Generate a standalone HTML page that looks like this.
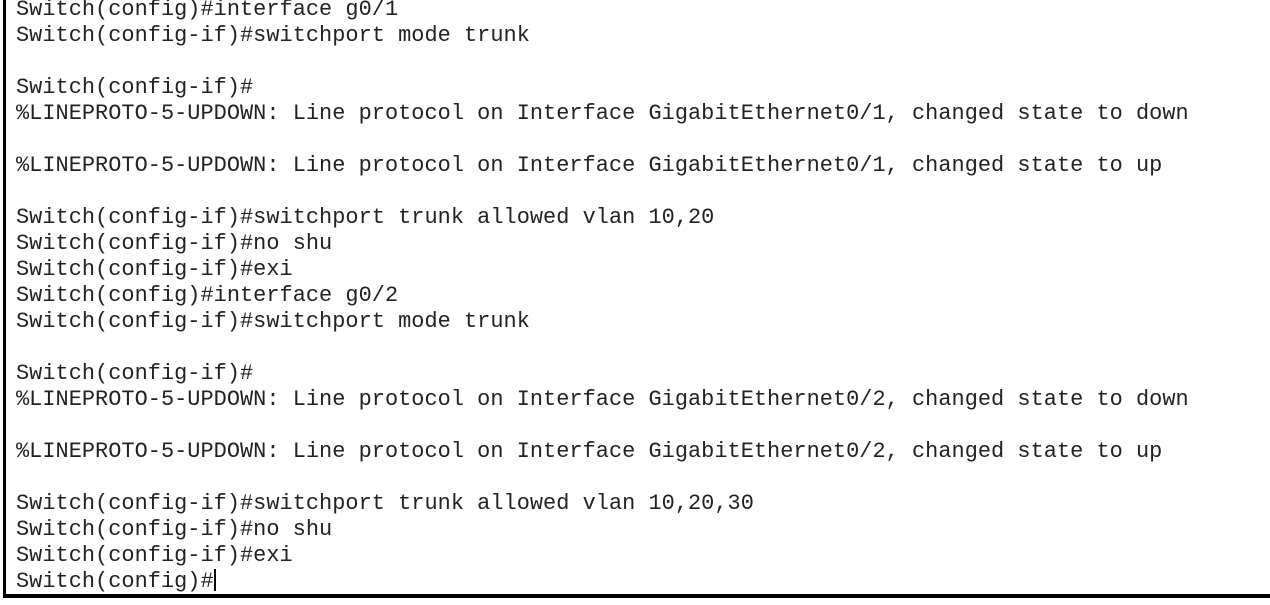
<!DOCTYPE html>
<html><head><style>
html,body{margin:0;padding:0;background:#fff;width:1270px;height:605px;overflow:hidden}
.l{position:absolute;left:3px;top:0;width:3px;height:598px;background:#000}
.b{position:absolute;left:3px;top:594px;width:1267px;height:4px;background:#000}
pre{position:absolute;left:16px;top:-3px;margin:0;font-family:"Liberation Mono",monospace;font-size:21.9px;letter-spacing:0.04px;line-height:26px;color:#222}
.c{display:inline-block;width:2px;height:22px;background:#000;vertical-align:-4px}
</style></head><body>
<div class="l"></div><div class="b"></div>
<pre>Switch(config)#interface g0/1
Switch(config-if)#switchport mode trunk

Switch(config-if)#
%LINEPROTO-5-UPDOWN: Line protocol on Interface GigabitEthernet0/1, changed state to down

%LINEPROTO-5-UPDOWN: Line protocol on Interface GigabitEthernet0/1, changed state to up

Switch(config-if)#switchport trunk allowed vlan 10,20
Switch(config-if)#no shu
Switch(config-if)#exi
Switch(config)#interface g0/2
Switch(config-if)#switchport mode trunk

Switch(config-if)#
%LINEPROTO-5-UPDOWN: Line protocol on Interface GigabitEthernet0/2, changed state to down

%LINEPROTO-5-UPDOWN: Line protocol on Interface GigabitEthernet0/2, changed state to up

Switch(config-if)#switchport trunk allowed vlan 10,20,30
Switch(config-if)#no shu
Switch(config-if)#exi
Switch(config)#<span class="c"></span></pre>
</body></html>
